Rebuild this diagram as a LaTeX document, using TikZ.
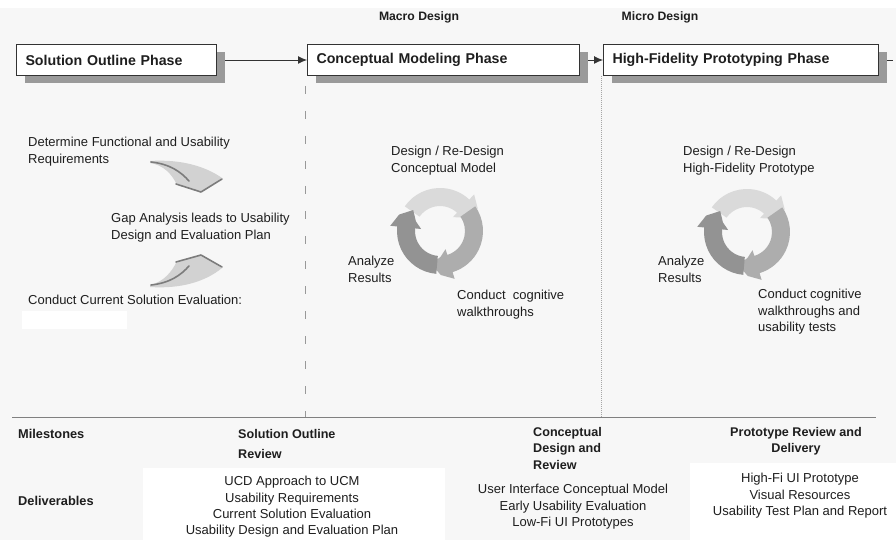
\documentclass[tikz,border=0pt]{standalone}
\usepackage{fontspec}
\setmainfont{Liberation Sans}
\usetikzlibrary{shadows,arrows.meta,calc}
\pgfdeclarelayer{bg}
\pgfsetlayers{bg,main}
\definecolor{bgc}{HTML}{F7F7F7}
\definecolor{shadowc}{HTML}{9A9A9A}
\definecolor{ringlight}{HTML}{DADADA}
\definecolor{ringmid}{HTML}{ADADAD}
\definecolor{ringdark}{HTML}{939393}
\definecolor{swfill}{HTML}{D2D2D2}
\definecolor{swline}{HTML}{7C7C7C}
\definecolor{txtc}{HTML}{1E1E1E}
\newcommand\ringseg[4]{%
  \pgfmathsetmacro\rsB{#3-32}%
  \pgfmathsetmacro\rsC{#3-16}%
  \fill[#4, shift={(#1)}] (#2:43) arc[start angle=#2, end angle=\rsB, radius=43]
    -- (\rsB:50) -- (\rsC:44) -- (#3:34) -- (\rsC:26) -- (\rsB:19) -- (\rsB:25)
    arc[start angle=\rsB, end angle=#2, radius=25] -- cycle;}
\begin{document}
\begin{tikzpicture}[x=1pt,y=-1pt,
  phase/.style={draw=black!80, line width=1pt, fill=white, anchor=north west,
    minimum height=31pt, inner xsep=9pt, inner ysep=0pt, align=left, text=txtc,
    font=\fontsize{14.2}{16}\selectfont\bfseries,
    general shadow={fill=shadowc, shadow xshift=8pt, shadow yshift=-8pt}},
  txt/.style={font=\fontsize{13}{16.5}\selectfont, inner sep=0pt, align=left,
    anchor=north west, text=txtc},
  ctxt/.style={font=\fontsize{13}{16.5}\selectfont, inner sep=0pt, align=center,
    anchor=north, text=txtc},
  btxt/.style={font=\fontsize{12.8}{16.5}\selectfont\bfseries, inner sep=0pt,
    align=left, anchor=north west, text=txtc},
  conn/.style={draw=black!80, line width=0.9pt, -{Latex[length=9pt,width=8pt]}},
  swoosh/.style={fill=swfill},
  swedge/.style={draw=swline, line width=1.6pt, line cap=round, line join=round}
]
\useasboundingbox (0,0) rectangle (896,540);

% phase boxes
\node[phase, text width=182pt] (sol) at (16,44) {Solution Outline Phase};
\node[phase, text width=254pt] (con) at (307,44) {Conceptual Modeling Phase};
\node[phase, text width=257pt] (hf) at (603,44) {High-Fidelity Prototyping Phase};

\begin{pgfonlayer}{bg}
  \fill[white] (0,0) rectangle (896,540);
  \fill[bgc] (0,8) rectangle (896,540);
  \fill[white] (22,311) rectangle (127,329);
  \fill[white] (143,468) rectangle (445,540);
  \fill[white] (690,463) rectangle (896,540);
  \draw[gray!80, line width=0.8pt, dash pattern=on 8pt off 17pt] (305,86) -- (305,417);
  \draw[gray!70, line width=0.8pt, dash pattern=on 1pt off 1pt] (601,76) -- (601,417);
  \draw[gray, line width=1pt] (12,417) -- (876,417);
  \draw[conn] (sol.east) -- (con.west);
  \draw[conn] (con.east) -- (hf.west);
  \coordinate (stub) at ($(hf.east)+(14,0)$);
  \draw[draw=black!80, line width=0.9pt] (hf.east) -- (stub);
\end{pgfonlayer}

% headings
\node[font=\fontsize{12.2}{14}\selectfont\bfseries, text=txtc] (macro) at (419,17) {Macro Design};
\node[font=\fontsize{12.2}{14}\selectfont\bfseries, text=txtc] (micro) at (660,17) {Micro Design};

% left column
\node[txt] (det) at (28,137) {Determine Functional and Usability\\Requirements};
\node[txt] (gap) at (111,213) {Gap Analysis leads to Usability\\Design and Evaluation Plan};
\node[txt] (cur) at (28,295) {Conduct Current Solution Evaluation:};

\fill[swoosh] (150,161) .. controls (180,159) and (205,166) .. (222,178) -- (201,192)
  -- (176,183) .. controls (172,175) and (164,165) .. (150,163) -- cycle;
\draw[swedge] (151,162) .. controls (170,164) and (181,172) .. (189,181);
\draw[swedge] (176,184) -- (201,192) -- (222,179);

\fill[swoosh] (150,287) .. controls (180,289) and (205,282) .. (222,268) -- (201,255)
  -- (176,263) .. controls (172,271) and (164,282) .. (150,285) -- cycle;
\draw[swedge] (151,285) .. controls (170,283) and (181,275) .. (189,266);
\draw[swedge] (176,262) -- (201,255) -- (222,267);

% middle cycle
\ringseg{440,231}{215}{345}{ringlight}
\ringseg{440,231}{325}{465}{ringmid}
\ringseg{440,231}{95}{218}{ringdark}
\node[txt] (ds1) at (391,146) {Design / Re-Design\\Conceptual Model};
\node[txt] (an1) at (348,256) {Analyze\\Results};
\node[txt] (cc1) at (457,290) {Conduct\ \ cognitive\\walkthroughs};

% right cycle
\ringseg{747,232}{215}{345}{ringlight}
\ringseg{747,232}{325}{465}{ringmid}
\ringseg{747,232}{95}{218}{ringdark}
\node[txt] (ds2) at (683,146) {Design / Re-Design\\High-Fidelity Prototype};
\node[txt] (an2) at (658,256) {Analyze\\Results};
\node[txt] (cc2) at (758,289) {Conduct cognitive\\walkthroughs and\\usability tests};

% bottom table
\node[btxt] (mil) at (18,429) {Milestones};
\node[btxt] (del) at (18,496) {Deliverables};
\node[btxt, font=\fontsize{12.6}{20}\selectfont\bfseries] (m1) at (238,429) {Solution Outline\\Review};
\node[btxt, font=\fontsize{12.6}{16.5}\selectfont\bfseries] (m2) at (533,427) {Conceptual\\Design and\\Review};
\node[btxt, anchor=north, align=center, font=\fontsize{12.6}{16.5}\selectfont\bfseries] (m3) at (796,427) {Prototype Review and\\Delivery};
\node[ctxt, font=\fontsize{13}{16.4}\selectfont] (d1) at (292,476) {UCD Approach to UCM\\Usability Requirements\\Current Solution Evaluation\\Usability Design and Evaluation Plan};
\node[ctxt] (d2) at (573,484) {User Interface Conceptual Model\\Early Usability Evaluation\\Low-Fi UI Prototypes};
\node[ctxt] (d3) at (800,473) {High-Fi UI Prototype\\Visual Resources\\Usability Test Plan and Report};
\end{tikzpicture}
\end{document}
